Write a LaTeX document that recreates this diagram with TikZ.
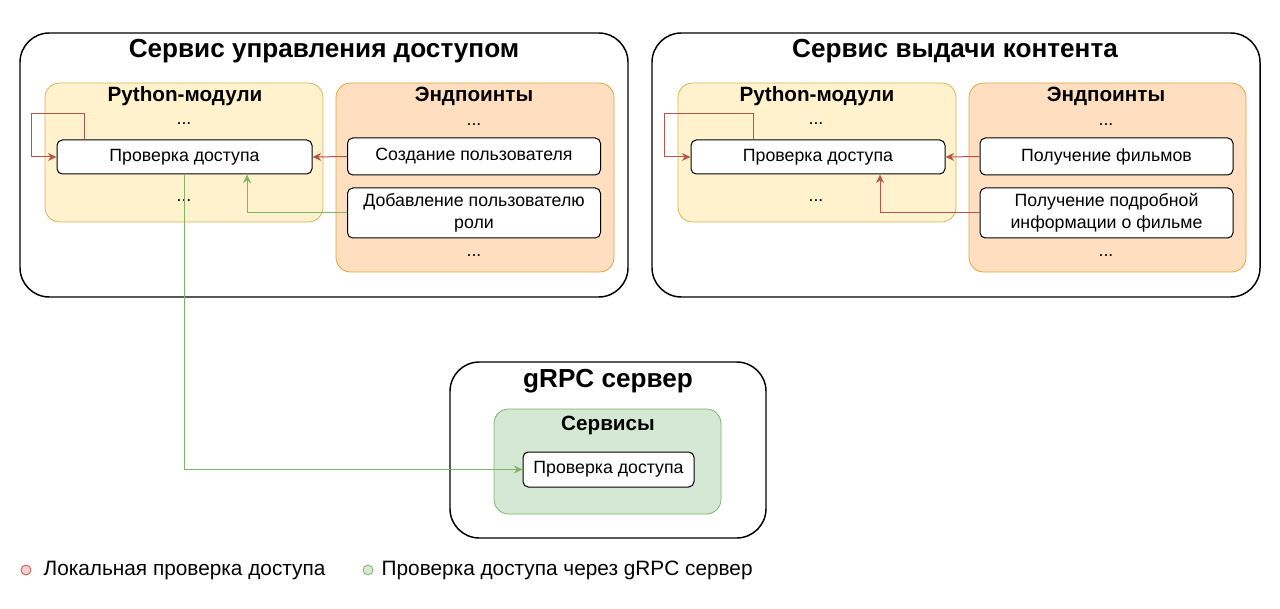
\documentclass[tikz,border=0pt]{standalone}
\usepackage{fontspec}
\setmainfont{Liberation Sans}
\usetikzlibrary{arrows.meta,positioning,calc}
\definecolor{pyfill}{HTML}{FFF2CC}
\definecolor{pyline}{HTML}{D6B656}
\definecolor{epfill}{HTML}{FFDFC0}
\definecolor{epline}{HTML}{E3A33B}
\definecolor{svcfill}{HTML}{D5E8D4}
\definecolor{svcline}{HTML}{82B366}
\definecolor{locline}{HTML}{B85450}
\definecolor{locfill}{HTML}{F8CECC}
\tikzset{
  servicebox/.style={
    rectangle, draw=black, fill=white, line width=1.1pt,
    rounded corners=22pt, inner sep=0pt,
    minimum width=#1, minimum height=198pt
  },
  servicebox/.default=456pt,
  groupbox/.style={
    rectangle, draw=#1line, fill=#1fill, line width=0.6pt,
    rounded corners=11pt, inner sep=0pt
  },
  groupbox/.default=py,
  funcbox/.style={
    rectangle, draw=black, fill=white, line width=0.75pt,
    rounded corners=4pt, inner sep=0pt, align=center,
    font=\fontsize{13.3}{16.5}\selectfont,
    minimum width=#1, minimum height=25.5pt
  },
  funcbox/.default=189.75pt,
  bigtitle/.style={font=\fontsize{19.6}{23}\selectfont\bfseries},
  grouptitle/.style={font=\fontsize{15.5}{18}\selectfont\bfseries},
  dotsnode/.style={font=\fontsize{13.3}{16}\selectfont, inner sep=1pt},
  localarrow/.style={-{Stealth[length=6.5pt,width=6pt]}, draw=locline, line width=0.75pt},
  grpcarrow/.style={-{Stealth[length=6.5pt,width=6pt]}, draw=svcline, line width=0.75pt},
  legenddot/.style={circle, draw=#1line, fill=#1fill, line width=0.6pt,
    minimum size=7.5pt, inner sep=0pt},
  legendtext/.style={font=\fontsize{15.6}{18}\selectfont, anchor=west, inner sep=0pt}
}
\begin{document}
\begin{tikzpicture}[x=0.75pt, y=-0.75pt]
  \useasboundingbox (0,0) rectangle (1280,609);
  % access management service
  \node[servicebox] (acc) at (324,165) {};
  \node[bigtitle] (acctitle) at (324,51) {Сервис управления доступом};
  \node[groupbox=py, minimum width=208.5pt, minimum height=104.25pt] (py1) at (184,152.5) {};
  \node[grouptitle] (py1title) at (185,96) {Python-модули};
  \node[dotsnode] (py1dotsa) at (184,124) {...};
  \node[dotsnode] (py1dotsb) at (184,201) {...};
  \node[funcbox=191.25pt] (chk1) at (184.5,157) {Проверка доступа};
  \node[groupbox=ep, minimum width=208.5pt, minimum height=141.75pt] (ep1) at (475,177.5) {};
  \node[grouptitle] (ep1title) at (474,96) {Эндпоинты};
  \node[dotsnode] (ep1dotsa) at (474,125) {...};
  \node[dotsnode] (ep1dotsb) at (474,256) {...};
  \node[funcbox, minimum height=27.75pt] (cre1) at (474,156.5) {Создание пользователя};
  \node[funcbox, minimum height=37.5pt] (add1) at (474,213) {Добавление пользователю\\роли};
  % content service
  \node[servicebox] (cnt) at (956,165) {};
  \node[bigtitle] (cnttitle) at (955,51) {Сервис выдачи контента};
  \node[groupbox=py, minimum width=208.5pt, minimum height=104.25pt] (py2) at (817,152.5) {};
  \node[grouptitle] (py2title) at (817,96) {Python-модули};
  \node[dotsnode] (py2dotsa) at (816,124) {...};
  \node[dotsnode] (py2dotsb) at (816,201) {...};
  \node[funcbox=190.5pt] (chk2) at (818,157) {Проверка доступа};
  \node[groupbox=ep, minimum width=207.75pt, minimum height=141.75pt] (ep2) at (1107.5,177.5) {};
  \node[grouptitle] (ep2title) at (1106,96) {Эндпоинты};
  \node[dotsnode] (ep2dotsa) at (1106,125) {...};
  \node[dotsnode] (ep2dotsb) at (1106,256) {...};
  \node[funcbox, minimum height=27.75pt] (get2) at (1106.5,156.5) {Получение фильмов};
  \node[funcbox, minimum height=37.5pt] (det2) at (1106.5,213) {Получение подробной\\информации о фильме};
  % grpc server
  \node[servicebox=237pt, minimum height=132pt] (grpc) at (608,450) {};
  \node[bigtitle] (grpctitle) at (608,381) {gRPC сервер};
  \node[groupbox=svc, minimum width=170.25pt, minimum height=78.75pt] (svc) at (607.5,461.5) {};
  \node[grouptitle] (svctitle) at (608,425) {Сервисы};
  \node[funcbox=128.25pt, minimum height=26.25pt] (chk3) at (608.5,469.5) {Проверка доступа};
  % connectors
  \draw[localarrow] ([xshift=21pt]chk1.north west) -- ++(0,-26) -| ([xshift=-18.75pt]chk1.west) -- (chk1.west);
  \draw[localarrow] (cre1.west) -- (chk1.east);
  \draw[grpcarrow] (add1.west) -| ([xshift=46.9pt]chk1.south);
  \draw[grpcarrow] (chk1.south) |- (chk3.west);
  \draw[localarrow] ([xshift=47.25pt]chk2.north west) -- ++(0,-26) -| ([xshift=-19.5pt]chk2.west) -- (chk2.west);
  \draw[localarrow] (get2.west) -- (chk2.east);
  \draw[localarrow] (det2.west) -| ([xshift=46.5pt]chk2.south);
  % legend
  \node[legenddot=loc] (locdot) at (26,570) {};
  \node[legendtext, right=9pt of locdot] (loctext) {Локальная проверка доступа};
  \node[legenddot=svc] (grpcdot) at (368,570) {};
  \node[legendtext, right=6pt of grpcdot] (grpctext) {Проверка доступа через gRPC сервер};
\end{tikzpicture}
\end{document}
